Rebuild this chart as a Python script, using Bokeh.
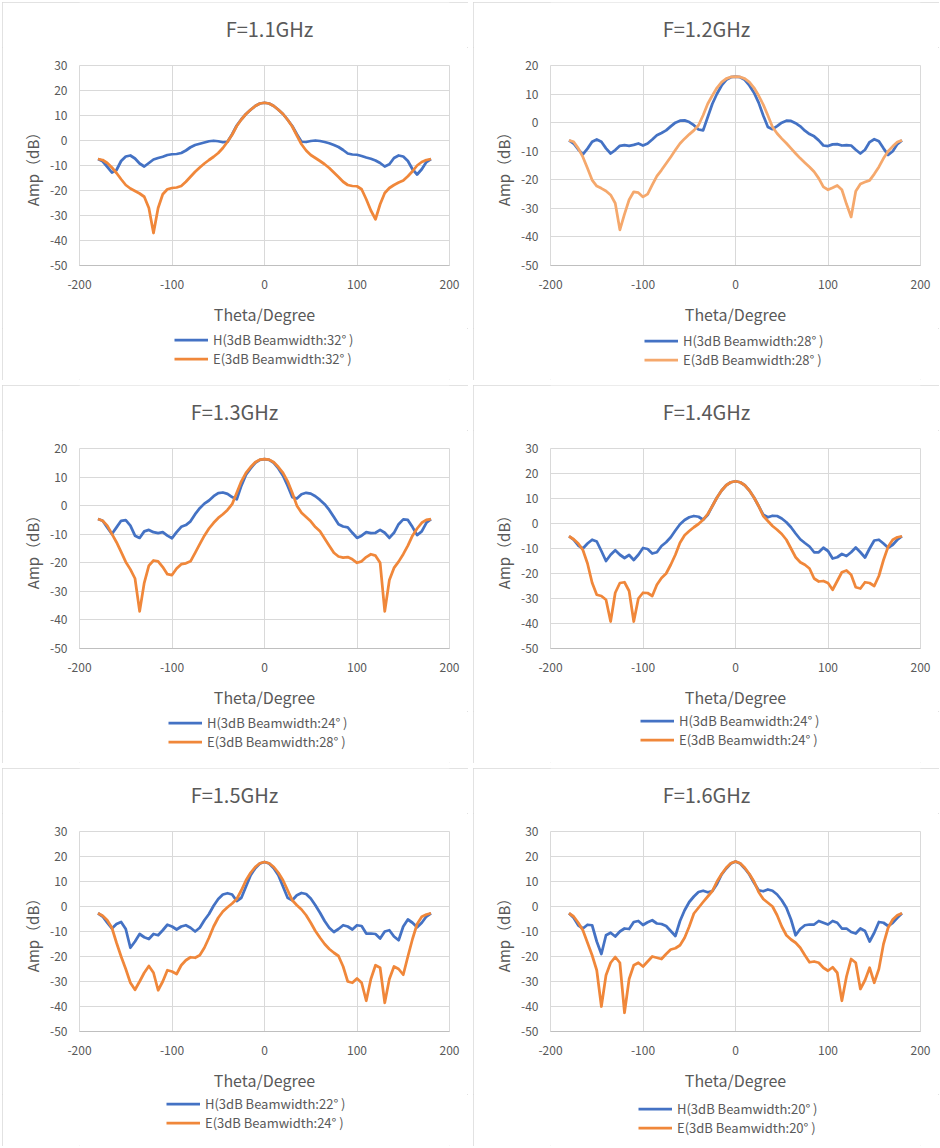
from bokeh.plotting import figure
from bokeh.models import Legend, LegendItem, FixedTicker, Label
from bokeh.layouts import column, row
from bokeh.embed import file_html
from bokeh.resources import INLINE

# ---------------- data ----------------
theta = [-180, -175, -170, -165, -160, -155, -150, -145, -140, -135, -130, -125, -120,
         -115, -110, -105, -100, -95, -90, -85, -80, -75, -70, -65, -60, -55, -50, -45,
         -40, -35, -30, -25, -20, -15, -10, -5, 0, 5, 10, 15, 20, 25, 30, 35, 40, 45,
         50, 55, 60, 65, 70, 75, 80, 85, 90, 95, 100, 105, 110, 115, 120, 125, 130,
         135, 140, 145, 150, 155, 160, 165, 170, 175, 180]

x_ticks = [-200, -100, 0, 100, 200]
y_ticks_30 = [-50, -40, -30, -20, -10, 0, 10, 20, 30]
y_ticks_20 = [-50, -40, -30, -20, -10, 0, 10, 20]

titles = ["F=1.1GHz", "F=1.2GHz", "F=1.3GHz", "F=1.4GHz", "F=1.5GHz", "F=1.6GHz"]
h_widths = [32, 28, 24, 24, 22, 20]
e_widths = [32, 28, 28, 24, 24, 20]
y_tops = [30, 20, 20, 30, 30, 30]

h_11 = [-7.4, -8.3, -10.5, -12.8, -11.8, -8.2, -6.4, -6.0, -7.2, -9.2, -10.4, -9.0, -7.6,
        -7.0, -6.5, -5.8, -5.5, -5.4, -5.0, -4.0, -2.7, -1.8, -1.3, -0.8, -0.3, -0.1, -0.3,
        -0.7, -0.5, 2.5, 6.0, 8.5, 10.6, 12.3, 13.8, 14.8, 15.1,
        14.8, 13.8, 12.3, 10.6, 8.3, 5.8, 2.5, -0.5, -0.6, -0.2, 0.0, -0.2, -0.6, -1.1,
        -1.8, -2.6, -3.8, -5.2, -5.6, -5.7, -6.2, -6.8, -7.3, -8.0, -9.0, -10.4, -9.5,
        -7.0, -6.0, -6.4, -8.2, -11.5, -13.6, -11.5, -8.6, -7.4]
e_11 = [-7.4, -7.8, -9.0, -10.8, -13.0, -15.5, -17.8, -19.2, -20.2, -21.2, -22.5, -27.0,
        -37.0, -27.0, -21.5, -19.5, -19.0, -18.8, -18.2, -16.5, -14.5, -12.5, -10.8, -9.2,
        -7.8, -6.5, -5.0, -3.0, -0.5, 2.3, 5.8, 8.4, 10.6, 12.3, 13.8, 14.8, 15.1,
        14.8, 13.8, 12.3, 10.6, 8.3, 5.6, 2.0, -1.5, -4.0, -5.8, -7.0, -8.2, -9.5, -11.0,
        -12.8, -14.6, -16.5, -17.8, -18.2, -18.3, -19.5, -23.5, -28.0, -31.5, -25.5, -21.0,
        -19.0, -17.8, -16.8, -16.0, -14.3, -12.3, -10.0, -8.6, -7.8, -7.4]

h_12 = [-6.2, -7.3, -9.4, -11.1, -9.1, -6.7, -5.9, -6.7, -9.0, -10.8, -9.6, -8.1, -7.9,
        -8.1, -7.8, -7.3, -8.0, -7.3, -5.9, -4.4, -3.6, -2.7, -1.3, 0.0, 0.7, 0.8, 0.2,
        -0.9, -2.4, -2.7, 2.0, 6.6, 10.1, 13.0, 15.0, 15.9, 16.1,
        15.9, 15.0, 13.0, 10.5, 7.0, 2.5, -1.5, -2.3, -1.2, 0.0, 0.7, 0.6, -0.2, -1.3,
        -2.8, -4.0, -4.8, -6.2, -8.0, -8.2, -7.6, -7.5, -8.0, -7.9, -8.0, -9.5, -10.8,
        -9.5, -6.8, -5.8, -6.5, -9.0, -11.3, -10.0, -7.5, -6.2]
e_12 = [-6.2, -6.7, -9.0, -12.0, -16.0, -20.1, -22.2, -23.0, -23.9, -25.3, -28.2, -37.5,
        -32.0, -27.0, -24.2, -24.5, -26.0, -25.0, -21.8, -18.7, -16.6, -14.3, -12.0, -9.6,
        -7.3, -5.6, -4.1, -2.7, -0.9, 2.6, 6.6, 9.5, 12.2, 14.2, 15.4, 16.0, 16.1,
        16.0, 15.4, 14.2, 12.2, 9.5, 6.3, 2.5, -1.5, -3.8, -5.6, -7.2, -9.0, -10.8, -12.5,
        -14.0, -15.5, -17.2, -19.5, -22.5, -23.5, -22.8, -22.0, -23.5, -28.5, -33.0, -24.0,
        -21.5, -20.8, -20.2, -18.0, -15.5, -12.5, -10.0, -8.3, -6.8, -6.2]

h_13 = [-4.7, -5.3, -7.6, -9.9, -7.6, -5.3, -5.1, -7.0, -10.5, -11.3, -9.0, -8.5, -9.3,
        -9.6, -9.3, -10.5, -11.4, -9.3, -7.4, -6.8, -5.5, -3.0, -0.9, 0.7, 1.8, 3.3, 4.4,
        4.6, 4.1, 3.0, 2.2, 7.0, 10.8, 13.0, 15.0, 16.0, 16.3,
        16.0, 15.0, 13.0, 10.5, 7.0, 3.0, 2.5, 4.0, 4.5, 4.2, 3.3, 2.0, 0.5, -1.5,
        -4.0, -6.5, -7.3, -7.6, -9.5, -11.3, -10.5, -9.3, -9.6, -9.5, -8.5, -9.5, -11.3,
        -9.5, -6.5, -4.8, -5.0, -7.5, -10.3, -9.0, -6.0, -4.7]
e_13 = [-4.7, -5.3, -7.0, -9.9, -12.8, -16.2, -19.7, -22.3, -25.5, -37.0, -27.0, -21.0,
        -19.2, -19.5, -21.5, -24.0, -24.3, -22.0, -20.5, -20.2, -19.5, -16.5, -13.5, -10.5,
        -8.0, -6.0, -4.3, -3.0, -1.5, 0.5, 4.5, 8.5, 11.5, 13.5, 15.2, 16.1, 16.3,
        16.1, 15.2, 13.5, 11.5, 8.5, 4.5, 0.0, -2.5, -4.0, -5.5, -7.5, -9.0, -11.5, -14.0,
        -16.5, -17.8, -18.2, -18.0, -18.8, -20.0, -19.5, -18.0, -17.0, -17.5, -20.0, -37.0,
        -26.0, -21.8, -19.6, -17.0, -14.0, -10.5, -8.0, -6.0, -5.0, -4.7]

h_14 = [-5.1, -6.5, -8.8, -10.0, -8.0, -6.5, -7.2, -11.0, -15.0, -12.5, -10.7, -12.5,
        -13.8, -12.6, -14.6, -12.5, -9.8, -10.2, -12.0, -11.5, -9.0, -7.5, -5.5, -2.8,
        -0.3, 1.4, 2.5, 3.0, 2.7, 1.5, 3.5, 7.0, 10.4, 13.2, 15.3, 16.5, 16.9,
        16.5, 15.3, 13.2, 10.4, 7.0, 3.5, 2.5, 3.1, 3.0, 2.0, 0.5, -1.5, -4.0, -6.3,
        -7.8, -9.2, -11.5, -11.5, -9.7, -11.0, -14.0, -13.5, -12.2, -13.0, -11.5, -9.6,
        -11.5, -13.6, -10.0, -6.8, -6.5, -8.0, -9.7, -8.5, -6.5, -5.1]
e_14 = [-5.1, -6.3, -8.0, -10.6, -16.0, -23.7, -28.5, -29.0, -30.5, -39.2, -27.7, -23.8,
        -23.5, -27.0, -39.2, -30.0, -27.7, -27.8, -29.0, -24.5, -21.8, -20.0, -16.5, -12.5,
        -7.7, -4.7, -3.0, -1.5, -0.2, 1.5, 3.8, 7.0, 10.4, 13.2, 15.3, 16.5, 16.9,
        16.5, 15.3, 13.2, 10.4, 7.0, 3.0, 1.0, -1.0, -2.5, -4.2, -6.5, -10.0, -13.5, -15.5,
        -16.5, -18.0, -22.0, -23.2, -23.0, -23.8, -26.5, -23.0, -19.5, -18.8, -20.5, -25.5,
        -26.0, -23.5, -23.8, -25.0, -21.0, -14.6, -9.3, -6.5, -5.5, -5.1]

h_15 = [-2.7, -4.0, -6.5, -8.8, -7.0, -6.2, -9.0, -16.5, -14.0, -11.0, -12.3, -13.0,
        -11.0, -11.5, -9.5, -7.3, -8.0, -9.2, -8.0, -7.5, -8.5, -10.0, -8.5, -5.5, -3.0,
        0.3, 3.0, 4.8, 5.3, 4.8, 2.2, 3.5, 8.0, 12.5, 15.3, 17.2, 17.8,
        17.2, 15.3, 12.5, 8.0, 3.5, 2.5, 4.5, 5.4, 5.0, 3.2, 0.5, -2.5, -5.8, -8.5,
        -10.2, -9.0, -7.5, -8.0, -9.2, -7.5, -7.8, -10.8, -10.8, -11.0, -12.8, -10.0,
        -9.5, -12.0, -13.5, -8.0, -5.2, -6.5, -8.3, -6.5, -4.0, -2.7]
e_15 = [-2.7, -3.7, -5.5, -8.5, -14.5, -20.0, -25.0, -30.5, -33.3, -30.0, -26.5, -23.8,
        -26.5, -33.5, -30.0, -25.5, -26.0, -27.0, -23.5, -21.5, -20.3, -20.5, -19.5, -16.5,
        -12.5, -8.0, -4.5, -2.0, -0.3, 1.2, 3.0, 6.5, 10.5, 13.5, 15.8, 17.3, 17.8,
        17.3, 15.8, 13.5, 10.5, 6.5, 2.5, 0.5, -1.2, -3.5, -6.5, -9.8, -12.5, -15.0, -17.0,
        -18.5, -19.8, -24.0, -30.0, -30.5, -28.8, -30.5, -37.7, -29.0, -23.5, -24.5, -38.5,
        -29.0, -24.0, -25.0, -27.3, -20.0, -13.0, -7.0, -4.1, -3.2, -2.7]

h_16 = [-2.7, -4.5, -7.5, -8.8, -7.3, -7.5, -14.0, -19.0, -11.5, -10.5, -12.0, -10.0,
        -8.8, -9.0, -6.2, -5.8, -7.4, -6.3, -5.5, -6.8, -7.0, -7.8, -9.8, -11.8, -5.8,
        -1.5, 1.8, 4.0, 5.8, 6.3, 5.7, 6.2, 9.0, 12.8, 15.2, 17.2, 18.0,
        17.2, 15.2, 12.8, 9.5, 6.5, 6.1, 6.8, 6.3, 4.8, 2.5, -0.5, -5.2, -11.5, -9.0,
        -7.5, -7.2, -7.2, -5.8, -6.5, -7.2, -5.8, -6.5, -8.8, -8.8, -10.2, -10.8, -8.8,
        -9.8, -14.0, -10.5, -6.2, -6.5, -7.8, -6.5, -4.5, -2.7]
e_16 = [-2.7, -4.0, -6.5, -9.5, -14.5, -19.5, -25.5, -40.0, -27.5, -22.5, -20.2, -22.5,
        -42.5, -29.0, -23.5, -22.5, -24.0, -22.0, -20.0, -20.5, -21.0, -19.0, -17.2, -16.7,
        -15.5, -12.5, -8.0, -2.8, -0.5, 1.8, 4.0, 6.2, 10.0, 13.0, 15.5, 17.3, 18.0,
        17.3, 15.5, 13.0, 10.0, 5.8, 3.0, 1.5, 0.0, -3.5, -8.0, -11.5, -13.2, -14.5, -16.5,
        -19.5, -22.3, -22.0, -22.5, -24.5, -25.7, -24.3, -26.5, -37.7, -28.0, -21.0, -22.5,
        -33.0, -29.5, -24.5, -30.5, -25.0, -15.0, -8.5, -5.2, -3.5, -2.7]

h_series = [h_11, h_12, h_13, h_14, h_15, h_16]
e_series = [e_11, e_12, e_13, e_14, e_15, e_16]

# ---------------- style ----------------
FONT = "Noto Sans CJK SC"
TXT = "#595959"
GRID = "#d9d9d9"
BLUE = "#4472C4"
ORANGE = "#F0873A"
ORANGE_LIGHT = "#F5A86C"
LW = 2.75
PANEL_W = 466
TOP_H, CHART_H, LEG_H = 45, 281, 52
BL, BR = 77, 19                                # frame borders (px)
title_x = [267, 233, 232, 233, 232, 233]       # title centre, px from panel left
legend_x = [95, 94, 89, 90, 87, 88]            # px from frame left
legend_y = [12, 11, 12, 14, 14, 9]             # px from panel bottom
OUTLINE = {"outline": "1px solid #d9d9d9", "outline-offset": "-1px"}


def strip(height, xr, yr):
    s = figure(width=PANEL_W, height=height, x_range=xr, y_range=yr,
               output_backend="svg", toolbar_location=None,
               x_axis_type=None, y_axis_type=None,
               min_border_left=BL, min_border_right=BR, min_border_top=0, min_border_bottom=0)
    s.grid.visible = False
    s.outline_line_color = None
    s.background_fill_color = "white"
    s.border_fill_color = "white"
    return s


def make_panel(i):
    ymax = y_tops[i]
    ecol = ORANGE_LIGHT if i == 1 else ORANGE

    # title strip
    t = strip(TOP_H, (BL, PANEL_W - BR), (0, TOP_H))
    t.add_layout(Label(x=title_x[i], y=TOP_H - 26, text=titles[i], text_align="center",
                       text_baseline="middle", text_font=FONT, text_font_size="20px",
                       text_color=TXT))

    # chart
    p = figure(width=PANEL_W, height=CHART_H, x_range=(-200, 200), y_range=(-50, ymax),
               output_backend="svg", toolbar_location=None,
               min_border_left=BL, min_border_right=BR,
               min_border_top=18, min_border_bottom=62)
    p.background_fill_color = "white"
    p.border_fill_color = "white"
    p.outline_line_color = GRID

    yt = y_ticks_30 if ymax == 30 else y_ticks_20
    p.xaxis.ticker = FixedTicker(ticks=x_ticks)
    p.yaxis.ticker = FixedTicker(ticks=yt)
    p.xgrid.ticker = FixedTicker(ticks=x_ticks)
    p.ygrid.ticker = FixedTicker(ticks=yt)
    p.xaxis.major_label_overrides = {t_: str(t_) for t_ in x_ticks}
    p.yaxis.major_label_overrides = {t_: str(t_) for t_ in yt}
    p.grid.grid_line_color = GRID
    p.grid.grid_line_width = 1

    for ax in (p.xaxis[0], p.yaxis[0]):
        ax.major_tick_line_color = None
        ax.minor_tick_line_color = None
        ax.major_tick_out = 0
        ax.major_tick_in = 0
        ax.minor_tick_out = 0
        ax.minor_tick_in = 0
        ax.major_label_text_font = FONT
        ax.major_label_text_font_size = "12px"
        ax.major_label_text_color = TXT
        ax.axis_label_text_font = FONT
        ax.axis_label_text_font_style = "normal"
        ax.axis_label_text_color = TXT
    p.xaxis.axis_line_color = "#bfbfbf"
    p.yaxis.axis_line_color = None
    p.xaxis.major_label_standoff = 14
    p.yaxis.major_label_standoff = 12
    p.xaxis.axis_label = "Theta/Degree"
    p.xaxis.axis_label_text_font_size = "16px"
    p.xaxis.axis_label_standoff = 10
    p.yaxis.axis_label = "Amp（dB）"
    p.yaxis.axis_label_text_font_size = "15px"
    p.yaxis.axis_label_standoff = 4

    p.line(theta, h_series[i], line_color=BLUE, line_width=LW, line_join="round")
    p.line(theta, e_series[i], line_color=ecol, line_width=LW, line_join="round")

    # legend strip below the chart: same series, drawn outside this strip's view,
    # so that only the legend (line swatches + labels) shows
    q = strip(LEG_H, (1000, 1001), (1000, 1001))
    lh = q.line(theta, h_series[i], line_color=BLUE, line_width=LW)
    le = q.line(theta, e_series[i], line_color=ecol, line_width=LW)
    legend = Legend(items=[
        LegendItem(label="H(3dB Beamwidth:%d° )" % h_widths[i], renderers=[lh]),
        LegendItem(label="E(3dB Beamwidth:%d° )" % e_widths[i], renderers=[le]),
    ], location=(legend_x[i], legend_y[i]), orientation="vertical")
    legend.label_text_font = FONT
    legend.label_text_font_size = "13px"
    legend.label_text_color = TXT
    legend.glyph_width = 34
    legend.glyph_height = 19
    legend.label_height = 19
    legend.label_standoff = 5
    legend.spacing = 0
    legend.padding = 0
    legend.margin = 0
    legend.border_line_color = None
    legend.background_fill_alpha = 0
    q.add_layout(legend, "center")

    return column(t, p, q, spacing=0, styles=OUTLINE)


panels = [make_panel(i) for i in range(6)]
layout = column(row(panels[0], panels[1], spacing=5),
                row(panels[2], panels[3], spacing=5),
                row(panels[4], panels[5], spacing=5), spacing=5,
                margin=(2, 0, 0, 2))

open("out.html", "w").write(file_html(layout, INLINE))
